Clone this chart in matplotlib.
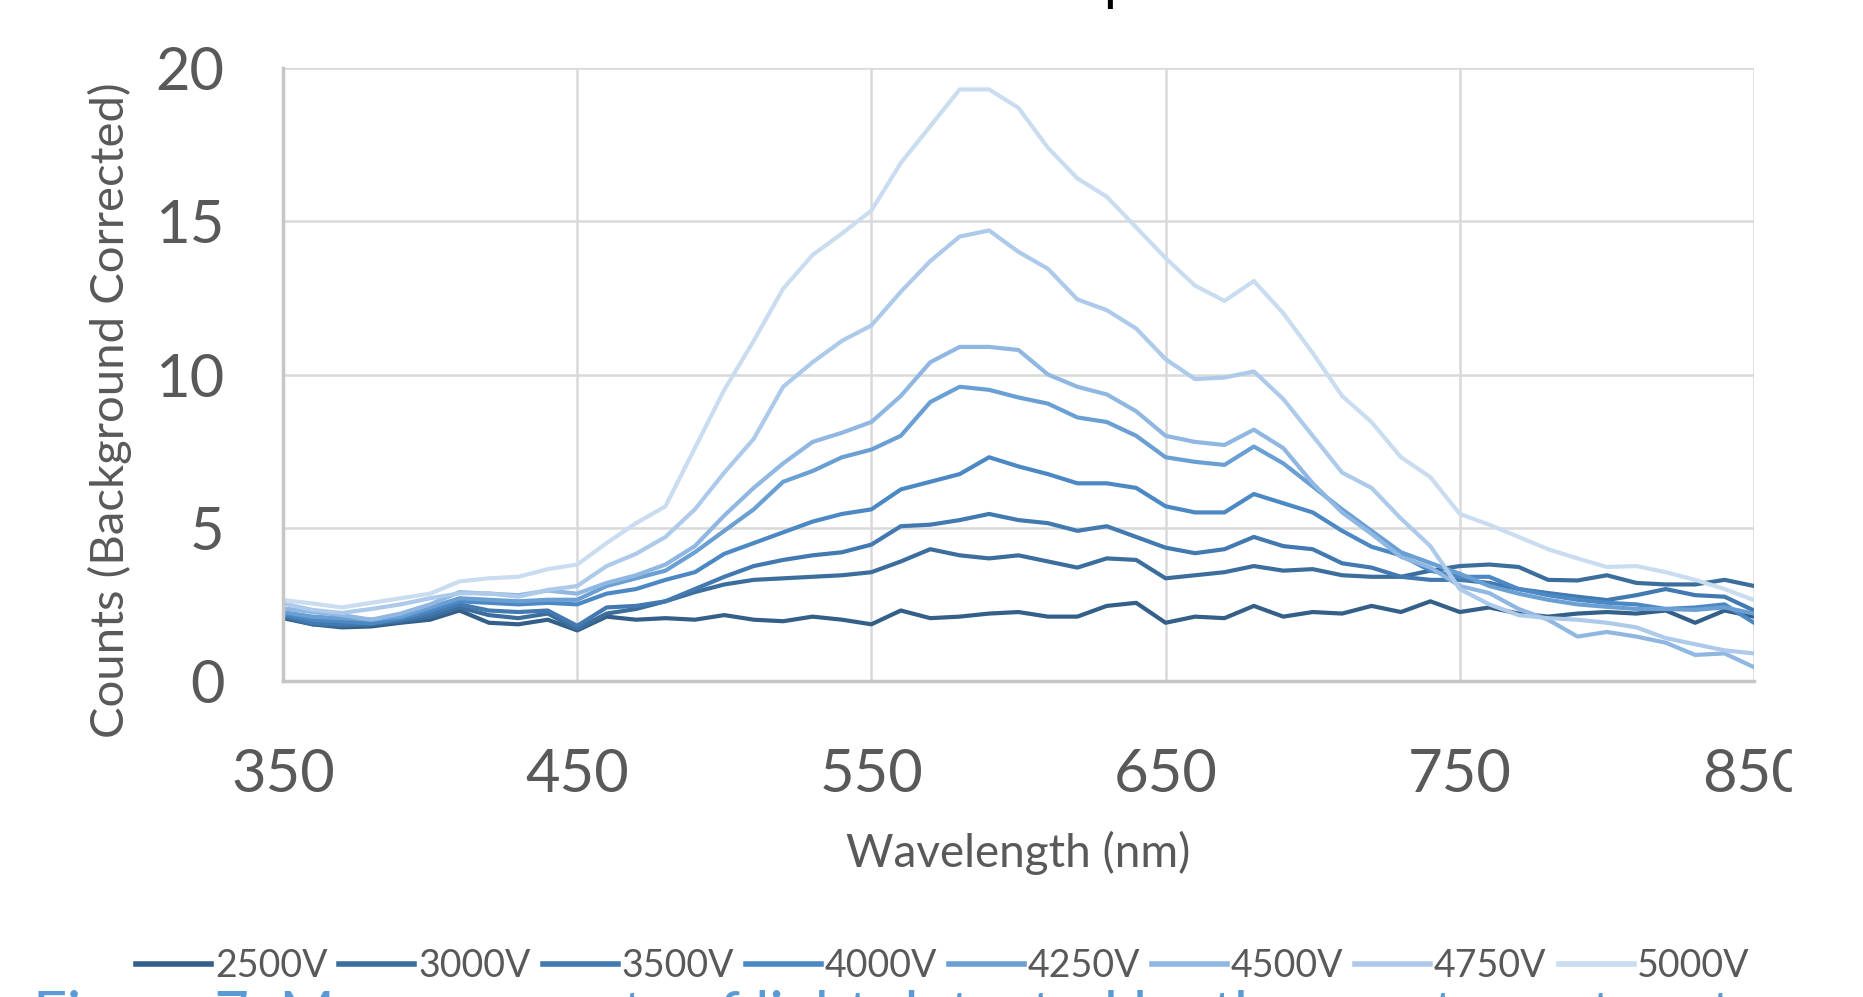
import numpy as np
import matplotlib
matplotlib.use("Agg")
import matplotlib.pyplot as plt
from matplotlib.patches import Rectangle

plt.rcParams['font.family'] = ['Lato', 'DejaVu Sans']

wavelength = list(range(350, 851, 10))
labels = ["2500V", "3000V", "3500V", "4000V", "4250V", "4500V", "4750V", "5000V"]
colors = ["#335f88", "#3b6e9c", "#4279b0", "#4c89c4", "#6a9fd4", "#8fb7e2", "#adcaea", "#c9dcf0"]

v2500 = [2.05, 1.85, 1.75, 1.78, 1.9, 2.0, 2.3, 1.9, 1.85, 2.0, 1.65,
         2.1, 2.0, 2.05, 2.0, 2.15, 2.0, 1.95, 2.1, 2.0, 1.85,
         2.3, 2.05, 2.1, 2.2, 2.25, 2.1, 2.1, 2.45, 2.55, 1.9,
         2.1, 2.05, 2.45, 2.1, 2.25, 2.2, 2.45, 2.25, 2.6, 2.25,
         2.4, 2.2, 2.1, 2.2, 2.25, 2.2, 2.3, 1.9, 2.3, 2.1]
v3000 = [2.1, 1.85, 1.8, 1.85, 1.95, 2.1, 2.4, 2.15, 2.05, 2.2, 1.7,
         2.2, 2.35, 2.6, 2.9, 3.15, 3.3, 3.35, 3.4, 3.45, 3.55,
         3.9, 4.3, 4.1, 4.0, 4.1, 3.9, 3.7, 4.0, 3.95, 3.35,
         3.45, 3.55, 3.75, 3.6, 3.65, 3.45, 3.4, 3.4, 3.6, 3.75,
         3.8, 3.72, 3.3, 3.28, 3.45, 3.2, 3.15, 3.15, 3.3, 3.1]
v3500 = [2.15, 1.9, 1.85, 1.88, 2.0, 2.2, 2.5, 2.3, 2.25, 2.3, 1.8,
         2.4, 2.45, 2.6, 3.0, 3.4, 3.75, 3.95, 4.1, 4.2, 4.45,
         5.05, 5.1, 5.25, 5.45, 5.25, 5.15, 4.9, 5.05, 4.7, 4.35,
         4.17, 4.3, 4.7, 4.4, 4.3, 3.84, 3.7, 3.4, 3.3, 3.3,
         3.2, 3.0, 2.87, 2.75, 2.64, 2.8, 3.0, 2.8, 2.75, 2.3]
v4000 = [2.2, 2.0, 1.95, 1.88, 2.05, 2.3, 2.6, 2.55, 2.5, 2.55, 2.5,
         2.85, 3.0, 3.3, 3.55, 4.15, 4.5, 4.85, 5.2, 5.45, 5.6,
         6.25, 6.5, 6.75, 7.3, 7.0, 6.75, 6.45, 6.45, 6.3, 5.7,
         5.5, 5.5, 6.1, 5.8, 5.5, 4.9, 4.38, 4.1, 3.6, 3.4,
         3.4, 3.0, 2.8, 2.65, 2.55, 2.5, 2.35, 2.4, 2.5, 1.9]
v4250 = [2.25, 2.1, 2.05, 2.0, 2.1, 2.4, 2.7, 2.65, 2.6, 2.65, 2.65,
         3.1, 3.35, 3.6, 4.2, 4.9, 5.6, 6.5, 6.85, 7.3, 7.55,
         8.0, 9.1, 9.6, 9.5, 9.25, 9.05, 8.6, 8.45, 8.0, 7.3,
         7.15, 7.05, 7.65, 7.1, 6.35, 5.6, 4.9, 4.2, 3.85, 3.5,
         3.1, 2.85, 2.65, 2.5, 2.42, 2.35, 2.35, 2.32, 2.4, 2.2]
v4500 = [2.37, 2.25, 2.15, 2.0, 2.2, 2.5, 2.9, 2.85, 2.8, 2.95, 2.85,
         3.2, 3.45, 3.8, 4.4, 5.4, 6.3, 7.1, 7.8, 8.1, 8.45,
         9.3, 10.4, 10.9, 10.9, 10.8, 10.0, 9.6, 9.35, 8.8, 8.0,
         7.8, 7.7, 8.2, 7.6, 6.45, 5.5, 4.8, 4.05, 3.7, 3.1,
         2.87, 2.35, 2.0, 1.45, 1.6, 1.45, 1.25, 0.85, 0.9, 0.45]
v4750 = [2.53, 2.32, 2.22, 2.35, 2.5, 2.7, 2.86, 2.86, 2.75, 2.97, 3.1,
         3.75, 4.15, 4.7, 5.6, 6.8, 7.9, 9.6, 10.4, 11.1, 11.6,
         12.7, 13.7, 14.5, 14.7, 14.0, 13.45, 12.45, 12.1, 11.5, 10.5,
         9.85, 9.9, 10.1, 9.2, 8.0, 6.8, 6.3, 5.3, 4.4, 3.0,
         2.5, 2.15, 2.05, 2.0, 1.9, 1.75, 1.4, 1.2, 1.0, 0.9]
v5000 = [2.64, 2.53, 2.4, 2.55, 2.7, 2.85, 3.25, 3.35, 3.4, 3.65, 3.8,
         4.5, 5.15, 5.7, 7.6, 9.5, 11.1, 12.8, 13.9, 14.6, 15.35,
         16.9, 18.1, 19.3, 19.3, 18.7, 17.4, 16.4, 15.8, 14.8, 13.8,
         12.9, 12.4, 13.05, 12.0, 10.7, 9.3, 8.45, 7.3, 6.65, 5.45,
         5.1, 4.7, 4.3, 4.0, 3.72, 3.75, 3.55, 3.3, 3.0, 2.64]

series = [v2500, v3000, v3500, v4000, v4250, v4500, v4750, v5000]
xticks = [350, 450, 550, 650, 750, 850]
yticks = [0, 5, 10, 15, 20]

W, H = 1863, 997
fig = plt.figure(figsize=(W / 100, H / 100), dpi=100)
ax = fig.add_axes([283 / W, 1 - 681 / H, (1754 - 283) / W, (681 - 68) / H])

for vals, lab, col in zip(series, labels, colors):
    ax.plot(wavelength, vals, color=col, lw=3.0, label=lab, solid_joinstyle='round')

ax.set_xlim(350, 850)
ax.set_ylim(0, 20)
ax.set_xticks(xticks)
ax.set_yticks(yticks)
ax.grid(True, color="#d9d9d9", lw=1.8)
ax.set_axisbelow(True)
for s in ['top', 'right']:
    ax.spines[s].set_visible(False)
for s in ['left', 'bottom']:
    ax.spines[s].set_color("#c6c6c6")
    ax.spines[s].set_linewidth(2.5)
ax.tick_params(length=0, labelsize=43, labelcolor="#595959")
ax.tick_params(axis='x', pad=48)
ax.tick_params(axis='y', pad=42)

fig.text(1018 / W, 1 - 853 / H, "Wavelength (nm)", ha='center', va='center',
         fontsize=33, color="#595959")
fig.text(110 / W, 1 - 410 / H, "Counts (Background Corrected)", ha='center', va='center',
         rotation=90, fontsize=34, color="#595959")

leg = fig.legend(loc='center', bbox_to_anchor=(943 / W, 1 - 966 / H), ncol=8,
                 frameon=False, fontsize=27, handlelength=2.0, handletextpad=0.1,
                 columnspacing=0.32, labelcolor="#595959")
for ln in leg.get_lines():
    ln.set_linewidth(4)

# clip of the right-most tick label as in the reference
fig.patches.append(Rectangle((1792 / W, 1 - 815 / H), 1 - 1792 / W, 85 / H,
                             transform=fig.transFigure, color='white', zorder=10))

# partially visible title and caption
fig.text(1076 / W, 1 + 1 / H, "Emission Spectrum", ha='center', va='baseline',
         fontsize=40, color='black')
fig.text(33 / W, 1 - 1034 / H, "Figure 7: Measurements of light detected by the spectrometer at",
         ha='left', va='baseline', fontsize=43, color="#5b9bd5")

fig.savefig("out.png", dpi=100)
